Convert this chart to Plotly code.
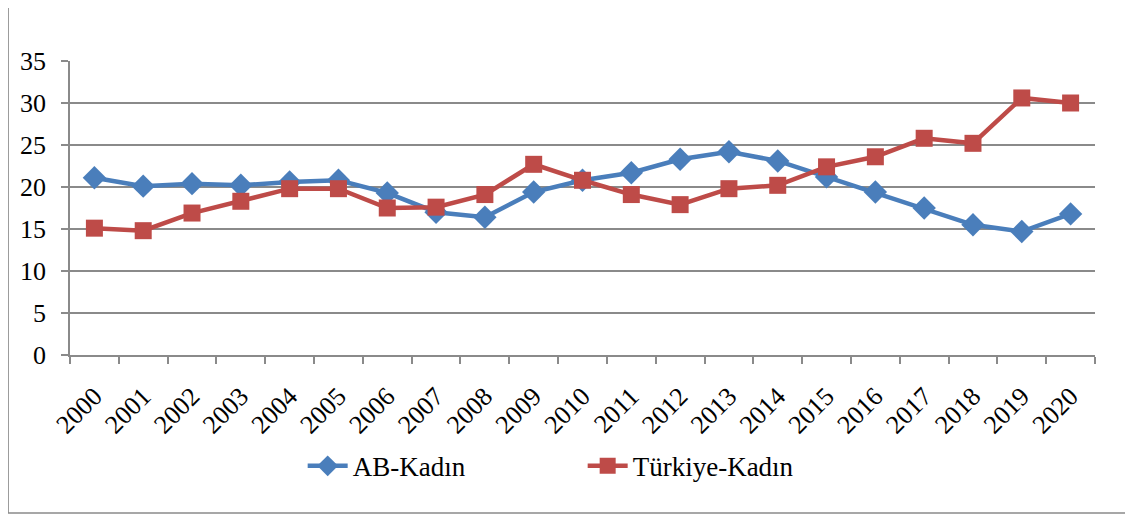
import plotly.graph_objects as go

years = [str(y) for y in range(2000, 2021)]
ab_kadin = [21.1, 20.1, 20.4, 20.2, 20.6, 20.8, 19.3, 17.0, 16.4, 19.4, 20.8,
            21.7, 23.3, 24.2, 23.1, 21.2, 19.4, 17.5, 15.5, 14.7, 16.8]
tr_kadin = [15.1, 14.8, 16.9, 18.3, 19.8, 19.8, 17.5, 17.6, 19.1, 22.7, 20.8,
            19.1, 17.9, 19.8, 20.2, 22.4, 23.6, 25.8, 25.2, 30.6, 30.0]

FONT = "serif"
BLUE = "#4A7EBB"
RED = "#BE4B48"
GREY = "#8a8a8a"

fig = go.Figure()
fig.add_trace(go.Scatter(
    x=years, y=ab_kadin,
    mode="lines+markers",
    name="AB-Kadın",
    line=dict(color=BLUE, width=4.5),
    marker=dict(symbol="diamond", size=18, color=BLUE),
    cliponaxis=False,
))
fig.add_trace(go.Scatter(
    x=years, y=tr_kadin,
    mode="lines+markers",
    name="Türkiye-Kadın",
    line=dict(color=RED, width=4.5),
    marker=dict(symbol="square", size=17, color=RED),
    cliponaxis=False,
))

# outer chart border
fig.add_shape(
    type="rect", xref="paper", yref="paper",
    x0=-0.0604, x1=1.035, y0=-0.537, y1=1.2007,
    line=dict(color=GREY, width=1.5),
)

fig.update_layout(
    width=1125, height=508,
    margin=dict(l=60, r=38, t=53, b=161),
    paper_bgcolor="white",
    plot_bgcolor="white",
    font=dict(family=FONT, size=26, color="black"),
    showlegend=True,
    legend=dict(
        orientation="h",
        x=0.227, y=-0.295, xanchor="left", yanchor="top",
        entrywidth=225, entrywidthmode="pixels",
        font=dict(family=FONT, size=27),
        itemwidth=40,
    ),
    xaxis=dict(
        type="category",
        range=[-0.5, len(years) - 0.5],
        tickangle=-45,
        tickson="boundaries",
        ticks="outside", ticklen=7, tickcolor=GREY, tickwidth=1.5,
        showline=True, linecolor=GREY, linewidth=1.5,
        showgrid=False,
        ticklabelstandoff=14,
        tickfont=dict(family=FONT, size=26),
    ),
    yaxis=dict(
        range=[0, 35], dtick=5,
        ticks="outside", ticklen=7, tickcolor=GREY, tickwidth=1.5,
        showline=True, linecolor=GREY, linewidth=1.5,
        showgrid=True, gridcolor=GREY, gridwidth=1.5,
        zeroline=False,
        ticklabelstandoff=10,
        tickfont=dict(family=FONT, size=26),
    ),
)

fig.write_html("out.html")
